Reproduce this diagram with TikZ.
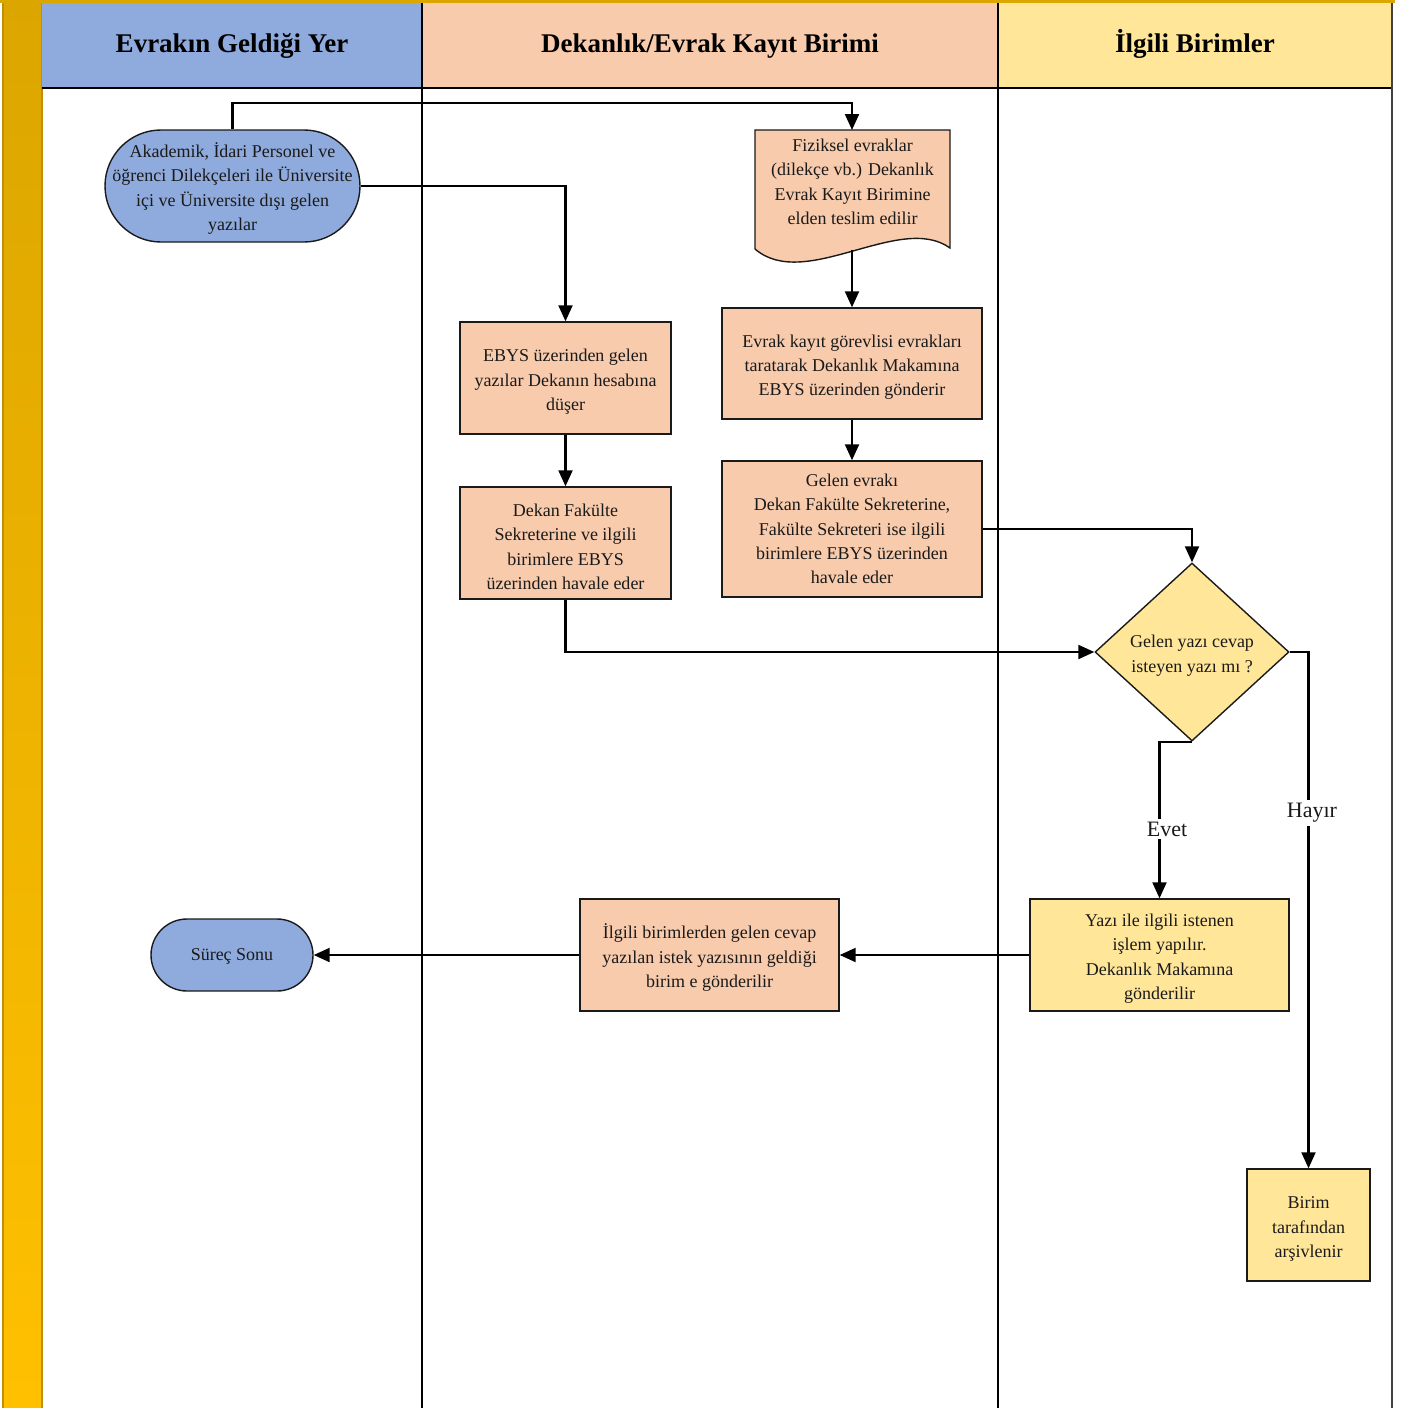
\documentclass[tikz,border=0pt]{standalone}
\usepackage{fontspec}
\setmainfont{Liberation Serif}
\usetikzlibrary{shapes.geometric,arrows.meta}

\definecolor{laneblue}{HTML}{8FAADC}
\definecolor{lanepeach}{HTML}{F8CBAD}
\definecolor{laneyellow}{HTML}{FFE699}
\definecolor{bartop}{HTML}{DCA600}
\definecolor{barbot}{HTML}{FFC000}
\definecolor{baredge}{HTML}{BF9000}
\definecolor{inkline}{HTML}{1A1A1A}

% taller first line so the text block sits a little lower in its box
\newcommand{\fstline}{\rule{0pt}{20pt}}

\begin{document}
\begin{tikzpicture}[x=1pt,y=-1pt,
  body/.style={font=\fontsize{18}{24.4}\selectfont, align=center, text=inkline},
  box/.style={body, draw=inkline, line width=1.4pt, inner sep=0pt},
  hdr/.style={font=\fontsize{27}{30}\selectfont\bfseries, text=black, inner sep=0pt,
              text height=19pt, text depth=6pt},
  conn/.style={draw=black, line width=2.1pt, -{Triangle[length=16pt,width=14pt]}},
  lbl/.style={font=\fontsize{22}{24}\selectfont, text=inkline, fill=white, inner xsep=1pt, inner ysep=3pt},
  stadium/.style={box, fill=laneblue},
  peachbox/.style={box, fill=lanepeach},
  yellowbox/.style={box, fill=laneyellow}]

% canvas
\useasboundingbox (0,0) rectangle (1406,1408);
\fill[white] (0,0) rectangle (1406,1408);

% left pool bar and top rim
\shade[top color=bartop, bottom color=barbot] (3,0) rectangle (42,1408);
\draw[baredge, line width=1.2pt] (3,0) -- (3,1408) (42,0) -- (42,1408);
\fill[bartop] (0,0) rectangle (1395,3);

% lane headers
\node[hdr, fill=laneblue, minimum width=380pt, minimum height=85pt] (h1) at (232,45.5) {Evrakın Geldiği Yer};
\node[hdr, fill=lanepeach, minimum width=576pt, minimum height=85pt] (h2) at (710,45.5) {Dekanlık/Evrak Kayıt Birimi};
\node[hdr, fill=laneyellow, minimum width=394pt, minimum height=85pt] (h3) at (1195,45.5) {İlgili Birimler};

% lane separators
\draw[black, line width=1.8pt] (42,88) -- (1392,88);
\draw[black, line width=1.8pt] (422,3) -- (422,1408) (998,3) -- (998,1408);
\draw[black!75, line width=1.2pt] (1392,3) -- (1392,1408);

% ---- nodes ----
\node[stadium, rounded corners=56pt, minimum width=255pt, minimum height=112pt] (start) at (232.5,186)
  {\fstline Akademik, İdari Personel ve\\öğrenci Dilekçeleri ile Üniversite\\içi ve Üniversite dışı gelen\\yazılar};

% document shape (wavy bottom)
\coordinate (fizin) at (852,130);
\coordinate (fizout) at (852,250);
\filldraw[fill=lanepeach, draw=inkline, line width=1.4pt]
  (755,130) -- (950,130) -- (950,248)
  .. controls (900,212) and (805,292) .. (755,249) -- cycle;
\node[body] (fiz) at (852.5,178) {\fstline Fiziksel evraklar\\(dilekçe vb.) Dekanlık\\Evrak Kayıt Birimine\\elden teslim edilir};

\node[peachbox, minimum width=211pt, minimum height=112pt] (ebys) at (565.5,378)
  {\fstline EBYS üzerinden gelen\\yazılar Dekanın hesabına\\düşer};
\node[peachbox, minimum width=260pt, minimum height=111pt] (kayit) at (852,363.5)
  {\fstline Evrak kayıt görevlisi evrakları\\taratarak Dekanlık Makamına\\EBYS üzerinden gönderir};
\node[peachbox, minimum width=211pt, minimum height=112pt] (dekan) at (565.5,543)
  {\fstline Dekan Fakülte\\Sekreterine ve ilgili\\birimlere EBYS\\üzerinden havale eder};
\node[peachbox, minimum width=260pt, minimum height=136pt] (gelen) at (852,529)
  {Gelen evrakı\\Dekan Fakülte Sekreterine,\\Fakülte Sekreteri ise ilgili\\birimlere EBYS üzerinden\\havale eder};

\node[box, diamond, fill=laneyellow, minimum width=194pt, minimum height=178pt] (dec) at (1192,652)
  {\fstline Gelen yazı cevap\\isteyen yazı mı ?};

\node[yellowbox, minimum width=259pt, minimum height=112pt] (yazi) at (1159.5,955)
  {\fstline Yazı ile ilgili istenen\\işlem yapılır.\\Dekanlık Makamına\\gönderilir};
\node[peachbox, minimum width=259pt, minimum height=112pt] (ilgili) at (709.5,955)
  {\fstline İlgili birimlerden gelen cevap\\yazılan istek yazısının geldiği\\birim e gönderilir};
\node[stadium, rounded corners=36pt, minimum width=162pt, minimum height=72pt, text depth=4pt, text height=14pt] (surec) at (232,955)
  {Süreç Sonu};
\node[yellowbox, minimum width=123pt, minimum height=112pt] (birim) at (1308.5,1225)
  {\fstline Birim\\tarafından\\arşivlenir};

% ---- connectors ----
\draw[conn] (start.north) -- ++(0,-26) -| (fizin);
\draw[conn] (start.east) -| (ebys.north);
\draw[conn] (fizout) -- (kayit.north);
\draw[conn] (kayit.south) -- (gelen.north);
\draw[conn] (ebys.south) -- (dekan.north);
\draw[conn] (gelen.east) -| (dec.north);
\draw[conn] (dekan.south) |- (dec.west);
\draw[conn] (dec.south) -| (yazi.north);
\draw[conn] (dec.east) -| (birim.north);
\draw[conn] (yazi.west) -- (ilgili.east);
\draw[conn] (ilgili.west) -- (surec.east);

% branch labels
\node[lbl] (evet) at (1167,829) {Evet};
\node[lbl] (hayir) at (1312,813) {Hayır};

\end{tikzpicture}
\end{document}
